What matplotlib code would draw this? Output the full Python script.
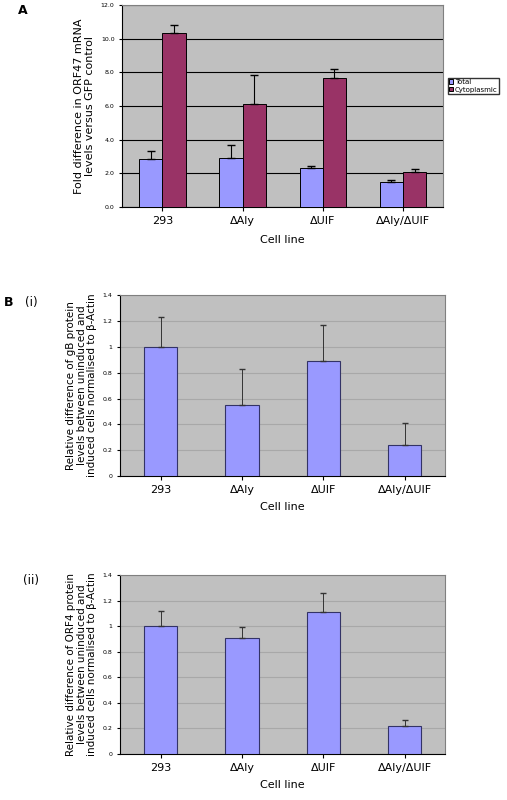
import matplotlib
matplotlib.use("Agg")
import matplotlib.pyplot as plt
import numpy as np

cells = ["293", "ΔAly", "ΔUIF", "ΔAly/ΔUIF"]
total = [2.85, 2.9, 2.3, 1.5]
total_err = [0.5, 0.8, 0.15, 0.12]
cyto = [10.35, 6.1, 7.65, 2.1]
cyto_err = [0.45, 1.75, 0.55, 0.15]
gb = [1.0, 0.55, 0.89, 0.24]
gb_err = [0.23, 0.28, 0.28, 0.17]
orf4 = [1.0, 0.91, 1.11, 0.22]
orf4_err = [0.12, 0.08, 0.15, 0.04]

BG = "#c0c0c0"
fig = plt.figure(figsize=(5.07, 8), dpi=100)

def style(ax, gridc):
    ax.set_facecolor(BG)
    ax.grid(axis="y", color=gridc, lw=0.8)
    ax.set_axisbelow(True)
    for s in ["top", "right"]:
        ax.spines[s].set_color("#808080")
    ax.tick_params(axis="y", labelsize=4.5, length=2)
    ax.tick_params(axis="x", labelsize=8, length=3)

x = np.arange(4)
axA = fig.add_axes([0.241, 0.741, 0.633, 0.253])
w = 0.29
axA.bar(x - w/2, total, w, color="#9999ff", edgecolor="black", lw=0.7, label="Total",
        yerr=[np.zeros(4), total_err], error_kw=dict(lw=0.8, capsize=3), zorder=3)
axA.bar(x + w/2, cyto, w, color="#993366", edgecolor="black", lw=0.7, label="Cytoplasmic",
        yerr=[np.zeros(4), cyto_err], error_kw=dict(lw=0.8, capsize=3), zorder=3)
axA.set_xlim(-0.5, 3.5)
axA.set_ylim(0, 12)
axA.set_yticks(np.arange(0, 12.1, 2))
axA.set_yticklabels([f"{v:.1f}" for v in np.arange(0, 12.1, 2)])
axA.set_xticks(x)
axA.set_xticklabels(cells)
style(axA, "black")
axA.set_xlabel("Cell line", fontsize=8, labelpad=6)
axA.set_ylabel("Fold difference in ORF47 mRNA\nlevels versus GFP control", fontsize=8)
axA.legend(loc="center left", bbox_to_anchor=(1.01, 0.6), fontsize=5, frameon=True,
           fancybox=False, edgecolor="black", handlelength=0.6, handleheight=0.6,
           borderpad=0.2, labelspacing=0.25, handletextpad=0.2, borderaxespad=0.2)
fig.text(0.035, 0.982, "A", fontsize=9, fontweight="bold")

def panelB(rect, vals, errs, ylabel):
    ax = fig.add_axes(rect)
    ax.bar(x, vals, 0.41, color="#9999ff", edgecolor="#333366", lw=0.8,
           yerr=[np.zeros(4), errs], error_kw=dict(lw=0.7, capsize=2.5, ecolor="#333333"), zorder=3)
    ax.set_xlim(-0.5, 3.5)
    ax.set_ylim(0, 1.4)
    ax.set_yticks(np.arange(0, 1.41, 0.2))
    ax.set_yticklabels(["0", "0.2", "0.4", "0.6", "0.8", "1", "1.2", "1.4"])
    ax.set_xticks(x)
    ax.set_xticklabels(cells)
    style(ax, "#a8a8a8")
    ax.set_xlabel("Cell line", fontsize=8, labelpad=5)
    ax.set_ylabel(ylabel, fontsize=7.5, linespacing=1.05)
    return ax

panelB([0.237, 0.405, 0.641, 0.226], gb, gb_err,
       "Relative difference of gB protein\nlevels between uninduced and\ninduced cells normalised to β-Actin")
panelB([0.237, 0.058, 0.641, 0.223], orf4, orf4_err,
       "Relative difference of ORF4 protein\nlevels between uninduced and\ninduced cells normalised to β-Actin")
fig.text(0.008, 0.617, "B", fontsize=9, fontweight="bold")
fig.text(0.05, 0.617, "(i)", fontsize=8.5)
fig.text(0.045, 0.27, "(ii)", fontsize=8.5)

fig.savefig("out.png", dpi=100)
